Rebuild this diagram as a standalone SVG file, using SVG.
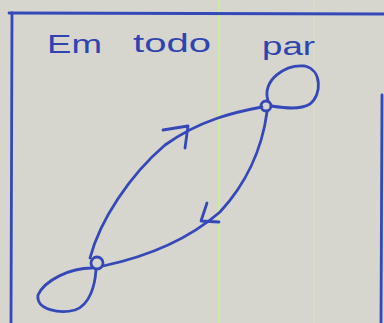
<svg xmlns="http://www.w3.org/2000/svg" width="384" height="323" viewBox="0 0 384 323">
<defs>
<style>
.ink{fill:none;stroke:#3548b8;stroke-width:2.8;stroke-linecap:round;stroke-linejoin:round}
.lbl{font-family:"Liberation Sans",Arial,sans-serif;font-size:26px;fill:#3044b0}
</style>
</defs>
<rect width="384" height="323" fill="#d6d6cf"/>
<line x1="219" y1="0" x2="219" y2="323" stroke="#c8f090" stroke-width="1.5"/>
<line x1="314" y1="0" x2="314" y2="323" stroke="#e2e0c0" stroke-width="1"/>
<g id="frame" class="ink">
<path d="M9 13 L384 14"/>
<path d="M12 13 L11 323"/>
<path d="M382 95 L381 323"/>
</g>
<g id="title">
<text class="lbl" x="47" y="53" textLength="55" lengthAdjust="spacingAndGlyphs">Em</text>
<text class="lbl" x="133" y="52" textLength="78" lengthAdjust="spacingAndGlyphs">todo</text>
<text class="lbl" x="262" y="55" textLength="53" lengthAdjust="spacingAndGlyphs">par</text>
</g>
<g id="connectors" class="ink">
<path d="M90 258 C100 220 130 175 165 145 C200 120 235 112 262 107"/>
<path d="M163 130 L188 126 L185 148"/>
<path d="M267 112 C262 150 245 185 220 212 C190 238 150 256 103 266"/>
<path d="M207 203 L201 221 L219 222"/>
<path d="M268 101 C262 80 285 64 305 66 C322 70 322 95 310 104 C300 110 285 108 271 106"/>
<path d="M92 268 C70 268 45 280 38 295 C36 310 60 314 75 310 C90 305 95 285 96 270"/>
</g>
<g id="node_top"><circle class="ink" cx="266" cy="106" r="5"/></g>
<g id="node_bottom"><circle class="ink" cx="97" cy="263" r="6"/></g>
</svg>
